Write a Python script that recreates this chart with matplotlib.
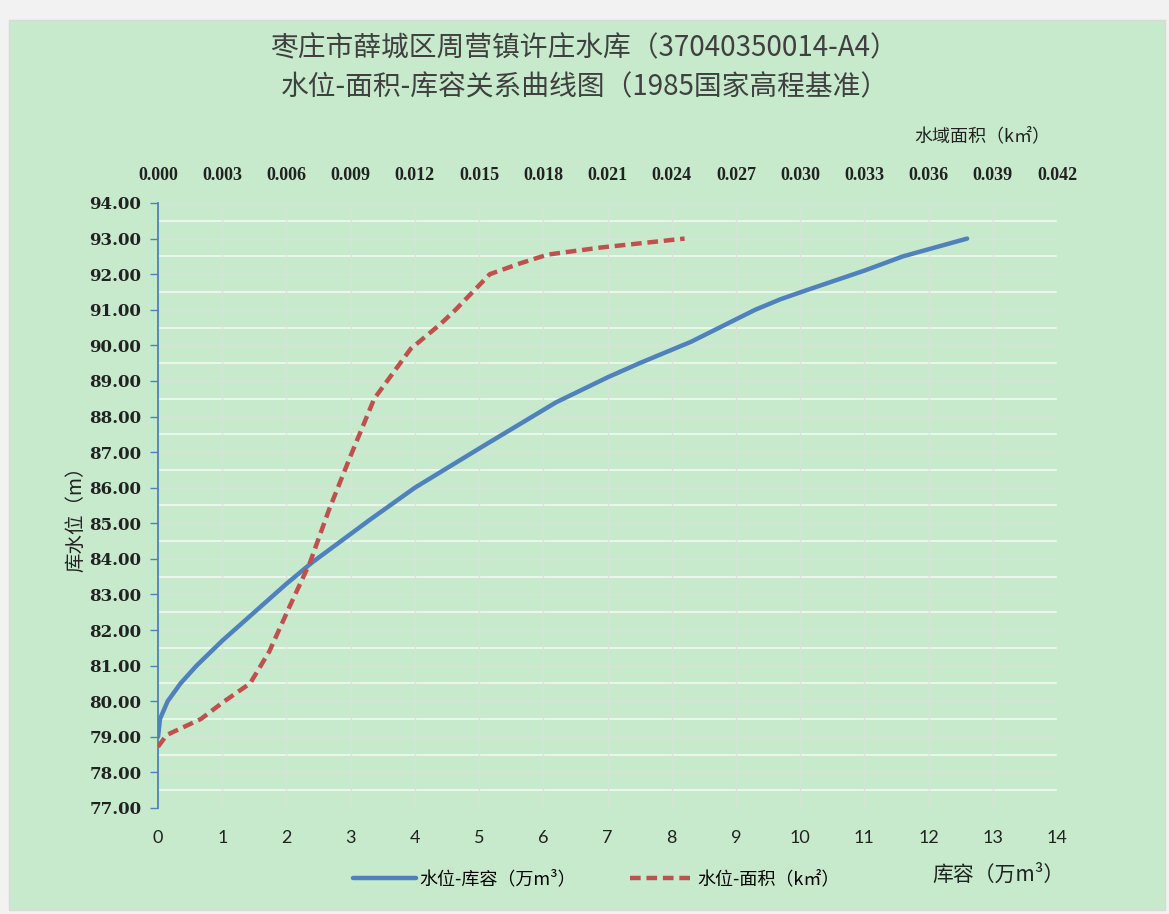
import matplotlib.pyplot as plt
from matplotlib.patches import Rectangle

plt.rcParams['font.family'] = ['Noto Sans CJK SC', 'DejaVu Sans']

# 水位-库容 (万m³, m)
volume = [0.0, 0.03, 0.15, 0.35, 0.6, 1.0, 1.5, 2.0, 2.4, 3.0, 3.3, 4.0, 4.5,
          5.0, 5.6, 6.2, 7.0, 7.5, 8.3, 8.8, 9.3, 9.7, 10.1, 11.0, 11.6, 12.6]
level_v = [79.0, 79.5, 80.0, 80.5, 81.0, 81.7, 82.5, 83.3, 83.9, 84.7, 85.1,
           86.0, 86.55, 87.1, 87.75, 88.4, 89.1, 89.5, 90.1, 90.55, 91.0,
           91.3, 91.55, 92.1, 92.5, 93.0]

# 水位-面积 (km², m)
area = [0.0, 0.0004, 0.002, 0.0031, 0.0043, 0.0052, 0.0061, 0.0071, 0.008,
        0.009, 0.0101, 0.0118, 0.0132, 0.0139, 0.0155, 0.0169, 0.0182,
        0.0207, 0.0246]
level_a = [78.72, 79.05, 79.5, 80.0, 80.5, 81.4, 82.6, 83.9, 85.4, 86.9,
           88.5, 89.9, 90.6, 91.0, 92.0, 92.3, 92.55, 92.75, 93.0]

x_ticks = list(range(0, 15))
top_ticks = [i * 0.003 for i in range(15)]
y_ticks = list(range(77, 95))

bg = '#c7eacc'
blue = '#4f81bd'
red = '#c0504d'

fig = plt.figure(figsize=(11.69, 9.14), dpi=100)
fig.patch.set_facecolor('#f2f2f2')
fig.patches.append(Rectangle((0.008, 0.004), 0.989, 0.974, transform=fig.transFigure,
                             facecolor=bg, edgecolor='#d9d9d9', lw=1, zorder=-10))

ax = fig.add_axes([0.1352, 0.1160, 0.7690, 0.6619])
ax.patch.set_alpha(0)
ax.set_xlim(0, 14)
ax.set_ylim(77, 94)

# grid: faint at integers, white at half steps
for y in y_ticks:
    ax.axhline(y, color='#d6e3d8', lw=1, zorder=1)
for y in y_ticks[:-1]:
    ax.axhline(y + 0.5, color='#eef8ef', lw=1.3, zorder=1)
for x in x_ticks[1:]:
    ax.axvline(x, color='#d6e3d8', lw=1, zorder=1)

ax.plot(volume, level_v, color=blue, lw=3.2, solid_capstyle='round',
        solid_joinstyle='round', zorder=3, label='水位-库容（万m³）')

ax2 = ax.twiny()
ax2.patch.set_alpha(0)
ax2.set_xlim(0, 0.042)
ax2.plot(area, level_a, color=red, lw=3.2, ls=(0, (2.4, 1.3)), zorder=3,
         label='水位-面积（k㎡）')

for s in ['top', 'right', 'bottom']:
    ax.spines[s].set_visible(False)
    ax2.spines[s].set_visible(False)
ax2.spines['left'].set_visible(False)
ax.spines['left'].set_color(blue)
ax.spines['left'].set_linewidth(1.3)

ax.set_yticks(y_ticks)
ax.set_yticklabels(['%.2f' % v for v in y_ticks], family='DejaVu Serif',
                   fontweight='bold', fontsize=12, color='#222222')
ax.tick_params(axis='y', length=6, color=blue, width=1, pad=6)
ax.set_xticks(x_ticks)
ax.set_xticklabels([str(v) for v in x_ticks], family='Lato', fontsize=13,
                   color='#222222')
ax.tick_params(axis='x', length=0, pad=16)

ax2.set_xticks(top_ticks)
ax2.set_xticklabels(['%.3f' % v for v in top_ticks], family='Liberation Serif',
                    fontweight='bold', fontsize=13, color='#222222')
ax2.tick_params(axis='x', length=0, pad=14)

fig.text(0.5, 0.947, '枣庄市薛城区周营镇许庄水库（37040350014-A4）', ha='center',
         va='center', fontsize=20, color='#404040')
fig.text(0.5, 0.905, '水位-面积-库容关系曲线图（1985国家高程基准）', ha='center',
         va='center', fontsize=20, color='#404040')
fig.text(0.84, 0.851, '水域面积（k㎡）', ha='center', va='center', fontsize=13,
         color='#222222')
fig.text(0.065, 0.437, '库水位（m）', ha='center', va='center', rotation=90,
         fontsize=14, color='#222222')
fig.text(0.854, 0.043, '库容（万m³）', ha='center', va='center', fontsize=15,
         color='#222222')

h1, l1 = ax.get_legend_handles_labels()
h2, l2 = ax2.get_legend_handles_labels()
fig.legend(h1 + h2, l1 + l2, loc='center', bbox_to_anchor=(0.51, 0.038), ncol=2,
           frameon=False, fontsize=13, handlelength=3.5, handletextpad=0.2,
           columnspacing=3)

fig.savefig('out.png', dpi=100, facecolor=fig.get_facecolor())
